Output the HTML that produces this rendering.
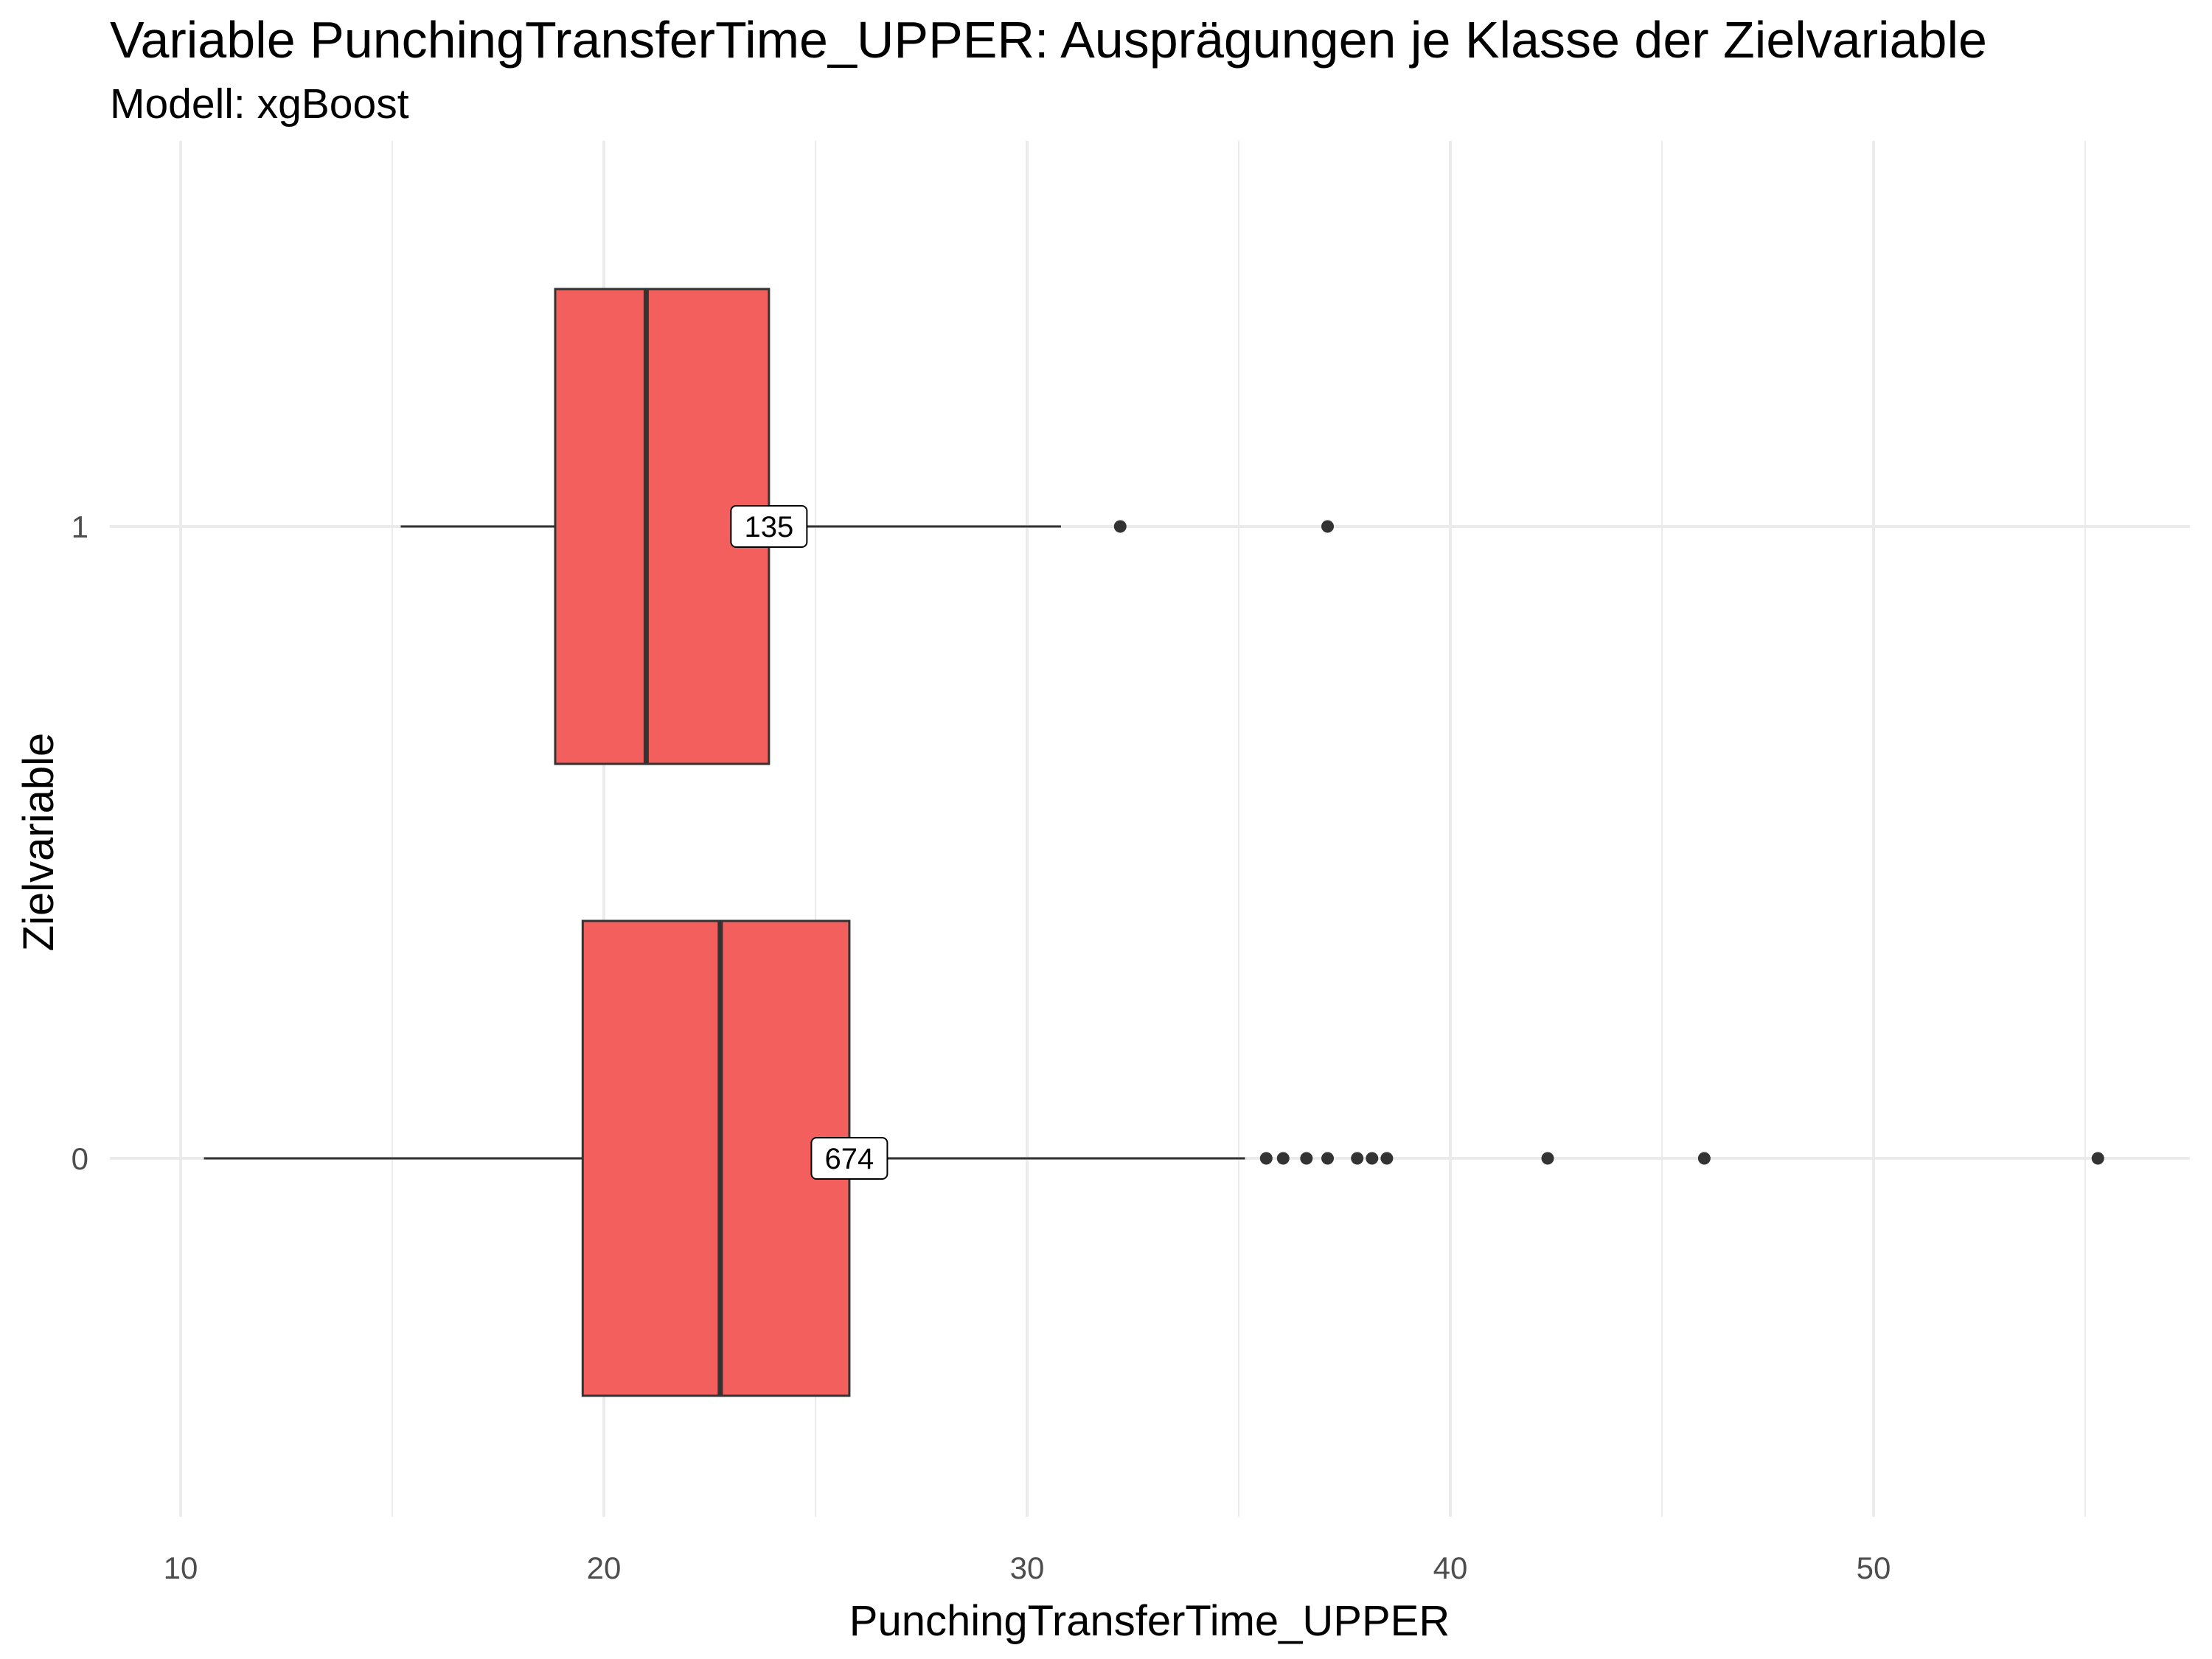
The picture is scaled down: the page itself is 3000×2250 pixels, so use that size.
<!DOCTYPE html>
<html><head><meta charset="utf-8">
<style>
html,body{margin:0;padding:0;background:#fff;}
svg{display:block;font-family:"Liberation Sans",Arial,sans-serif;}
</style></head>
<body>
<svg id="chart" width="3000" height="2250" viewBox="0 0 3000 2250" xmlns="http://www.w3.org/2000/svg">
<rect width="3000" height="2250" fill="#fff"/>
<text x="149" y="78" font-size="70" fill="#000">Variable PunchingTransferTime_UPPER: Ausprägungen je Klasse der Zielvariable</text>
<text x="149" y="160" font-size="57" fill="#000">Modell: xgBoost</text>
<g id="grid"></g>
<g id="marks"></g>
<text x="1559" y="2218" font-size="58" text-anchor="middle" fill="#000">PunchingTransferTime_UPPER</text>
<text transform="translate(72,1142) rotate(-90)" font-size="58" text-anchor="middle" fill="#000">Zielvariable</text>
</svg>
<script>
const categories = ["1","0"];
const q1 = [18.85, 19.5];
const medians = [21.0, 22.75];
const q3 = [23.9, 25.8];
const whiskerLow = [15.2, 10.55];
const whiskerHigh = [30.8, 35.15];
const counts = [135, 674];
const outliers1 = [32.2, 37.1];
const outliers0 = [35.65, 36.05, 36.6, 37.1, 37.8, 38.15, 38.5, 42.3, 46.0, 55.3];
const xTicks = [10, 20, 30, 40, 50];
const xMinor = [15, 25, 35, 45, 55];

const NS = "http://www.w3.org/2000/svg";
const xs = v => 245 + (v - 10) * 57.4;
const yCat = i => [714, 1571][i];
const halfH = 322;
const plotL = 149, plotR = 2970, plotT = 191, plotB = 2057;
function mk(tag, attrs, parent){const e=document.createElementNS(NS,tag);for(const k in attrs)e.setAttribute(k,attrs[k]);parent.appendChild(e);return e;}
const grid = document.getElementById('grid'), marks = document.getElementById('marks');

xMinor.forEach(v=>{
  const l = mk('line',{x1:xs(v),x2:xs(v),y1:plotT,y2:plotB,stroke:'#ebebeb','stroke-width':2},grid);
  
  
});
xTicks.forEach(v=>{
  const l = mk('line',{x1:xs(v),x2:xs(v),y1:plotT,y2:plotB,stroke:'#ebebeb','stroke-width':4},grid);
  
  
  const t = mk('text',{x:xs(v),y:2141,'font-size':42,'text-anchor':'middle',fill:'#4d4d4d'},grid);
  t.textContent = v;
  
  
});
categories.forEach((c,i)=>{
  const l = mk('line',{x1:plotL,x2:plotR,y1:yCat(i),y2:yCat(i),stroke:'#ebebeb','stroke-width':4},grid);
  
  
  const t = mk('text',{x:120,y:yCat(i)+15,'font-size':42,'text-anchor':'end',fill:'#4d4d4d'},grid);
  t.textContent = c;
  
  
});

const outs = [outliers1, outliers0];
categories.forEach((c,i)=>{
  const y = yCat(i);
  const w1 = mk('line',{x1:xs(whiskerLow[i]),x2:xs(q1[i]),y1:y,y2:y,stroke:'#333','stroke-width':3},marks);
  
  
  const w2 = mk('line',{x1:xs(q3[i]),x2:xs(whiskerHigh[i]),y1:y,y2:y,stroke:'#333','stroke-width':3},marks);
  
  
  const b = mk('rect',{x:xs(q1[i]),y:y-halfH,width:xs(q3[i])-xs(q1[i]),height:2*halfH,fill:'#F25F5C',stroke:'#333','stroke-width':3},marks);
  
  
  const m = mk('line',{x1:xs(medians[i]),x2:xs(medians[i]),y1:y-halfH,y2:y+halfH,stroke:'#333','stroke-width':7},marks);
  
  
  outs[i].forEach(v=>{
    const p = mk('circle',{cx:xs(v),cy:y,r:8.5,fill:'#333'},marks);
    
    
  });
  const txt = String(counts[i]);
  const w = txt.length*23+34;
  const lb = mk('rect',{x:xs(q3[i])-w/2,y:y-28,width:w,height:56,rx:7,fill:'#fff',stroke:'#000','stroke-width':2},marks);
  
  
  const lt = mk('text',{x:xs(q3[i]),y:y+14,'font-size':40,'text-anchor':'middle',fill:'#000'},marks);
  lt.textContent = txt;
  
  
});
</script>
</body></html>
